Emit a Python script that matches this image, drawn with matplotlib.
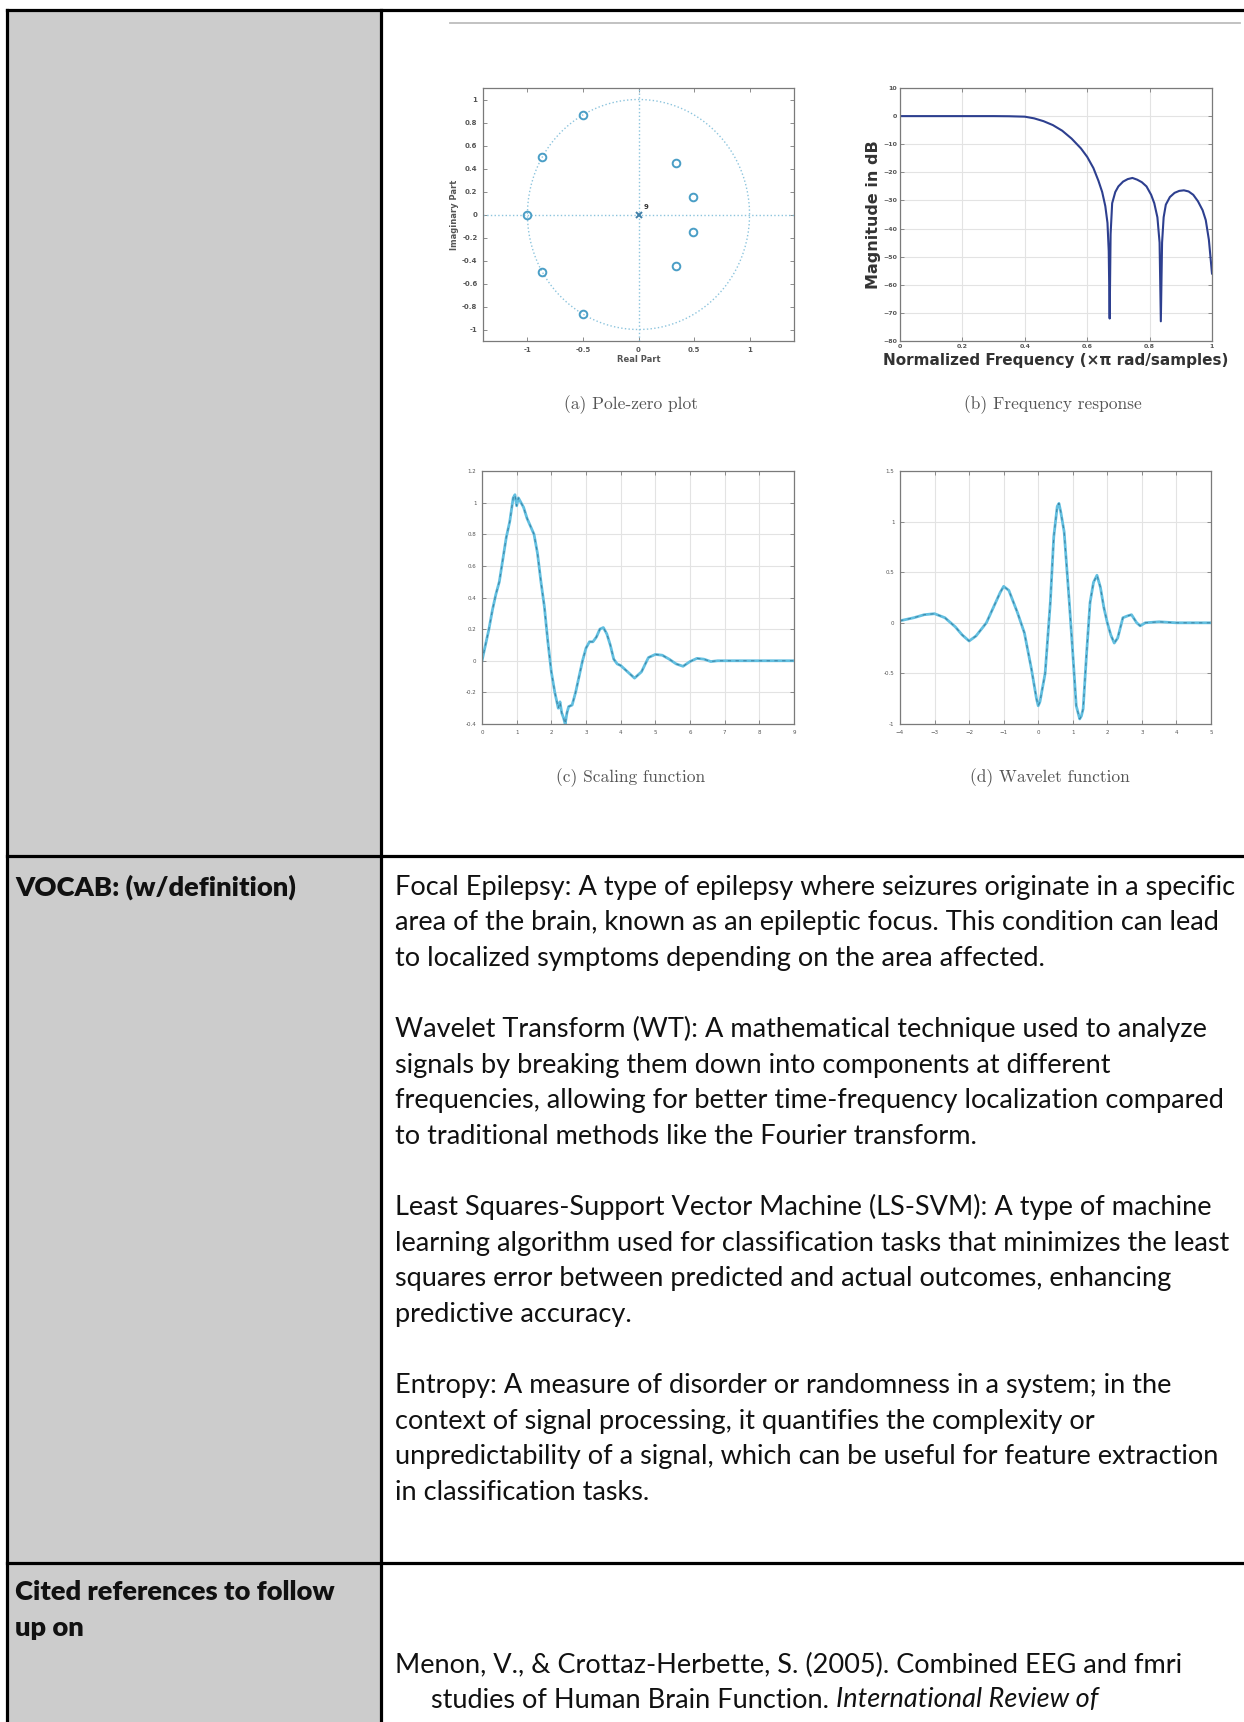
import numpy as np
import matplotlib
matplotlib.use('Agg')
import matplotlib.pyplot as plt
from matplotlib.ticker import FormatStrFormatter

# ---- data ----
# (a) pole-zero plot: zeros (real, imag) and the 9-fold pole at origin
zeros_re = [-0.5, -0.866, -1.0, -0.866, -0.5, 0.34, 0.49, 0.49, 0.34]
zeros_im = [0.866, 0.5, 0.0, -0.5, -0.866, 0.45, 0.15, -0.15, -0.45]
pole_re = [0.0]
pole_im = [0.0]
pole_mult = '9'

# (b) frequency response (normalized freq, dB)
fr_x = [0, 0.1, 0.2, 0.3, 0.35, 0.4, 0.43, 0.46, 0.49, 0.52, 0.55, 0.58, 0.6,
        0.62, 0.636, 0.648, 0.658, 0.665, 0.669, 0.672, 0.675, 0.68, 0.69,
        0.70, 0.715, 0.73, 0.745, 0.76, 0.775, 0.79, 0.805, 0.815, 0.825,
        0.832, 0.836, 0.84, 0.845, 0.852, 0.865, 0.88, 0.895, 0.91, 0.925,
        0.94, 0.955, 0.97, 0.98, 0.99, 1.0]
fr_db = [0, 0, 0, 0, -0.05, -0.2, -0.8, -1.8, -3.2, -5.2, -8, -11.5, -14.5,
         -18.5, -23, -27, -32, -38, -48, -72, -42, -31, -27, -25, -23.3,
         -22.4, -22, -22.6, -23.5, -25, -28, -31, -36, -45, -73, -45, -36,
         -31.5, -28.8, -27.3, -26.6, -26.4, -26.8, -28, -30.3, -33.5, -37,
         -44, -56]

# (c) scaling function
sc_x = [0, 0.1, 0.2, 0.3, 0.4, 0.5, 0.6, 0.7, 0.8, 0.9, 0.95, 1.0, 1.05, 1.1,
        1.2, 1.3, 1.4, 1.5, 1.6, 1.7, 1.8, 1.9, 2.0, 2.1, 2.2, 2.25, 2.3, 2.35,
        2.4, 2.45, 2.5, 2.6, 2.7, 2.8, 2.9, 3.0, 3.1, 3.2, 3.3, 3.4, 3.5, 3.6,
        3.7, 3.8, 3.9, 4.0, 4.2, 4.4, 4.6, 4.8, 5.0, 5.2, 5.4, 5.6, 5.8, 6.0,
        6.2, 6.4, 6.6, 6.8, 7.0, 8.0, 9.0]
sc_y = [0, 0.1, 0.2, 0.32, 0.42, 0.5, 0.64, 0.78, 0.88, 1.03, 1.05, 0.98,
        1.03, 1.01, 0.97, 0.9, 0.85, 0.8, 0.68, 0.5, 0.34, 0.12, -0.07, -0.2,
        -0.3, -0.26, -0.33, -0.36, -0.4, -0.33, -0.29, -0.28, -0.2, -0.1, 0.0,
        0.08, 0.12, 0.12, 0.15, 0.2, 0.21, 0.17, 0.1, 0.01, -0.02, -0.03,
        -0.07, -0.11, -0.07, 0.02, 0.04, 0.035, 0.01, -0.02, -0.035, -0.005,
        0.015, 0.01, -0.005, 0, 0, 0, 0]

# (d) wavelet function
wv_x = [-4, -3.6, -3.3, -3.0, -2.7, -2.4, -2.2, -2.0, -1.8, -1.5, -1.3, -1.1,
        -1.0, -0.85, -0.6, -0.4, -0.2, -0.05, 0.0, 0.05, 0.2, 0.35, 0.45, 0.55,
        0.6, 0.65, 0.75, 0.9, 1.0, 1.1, 1.2, 1.25, 1.3, 1.4, 1.5, 1.6, 1.7,
        1.8, 1.9, 2.0, 2.1, 2.2, 2.3, 2.45, 2.6, 2.7, 2.85, 2.95, 3.1, 3.5,
        4.0, 5.0]
wv_y = [0.02, 0.05, 0.08, 0.09, 0.05, -0.04, -0.12, -0.18, -0.13, 0.0, 0.15,
        0.3, 0.36, 0.32, 0.1, -0.1, -0.45, -0.75, -0.82, -0.78, -0.5, 0.2,
        0.85, 1.15, 1.18, 1.1, 0.9, 0.2, -0.3, -0.82, -0.95, -0.92, -0.85,
        -0.3, 0.2, 0.4, 0.47, 0.35, 0.15, 0.0, -0.12, -0.2, -0.15, 0.05, 0.07,
        0.08, 0.0, -0.03, 0.0, 0.01, 0.0, 0.0]

captions = ['(a) Pole-zero plot', '(b) Frequency response',
            '(c) Scaling function', '(d) Wavelet function']

vocab_lines = [
    'Focal Epilepsy: A type of epilepsy where seizures originate in a specific',
    'area of the brain, known as an epileptic focus. This condition can lead',
    'to localized symptoms depending on the area affected.',
    '',
    'Wavelet Transform (WT): A mathematical technique used to analyze',
    'signals by breaking them down into components at different',
    'frequencies, allowing for better time-frequency localization compared',
    'to traditional methods like the Fourier transform.',
    '',
    'Least Squares-Support Vector Machine (LS-SVM): A type of machine',
    'learning algorithm used for classification tasks that minimizes the least',
    'squares error between predicted and actual outcomes, enhancing',
    'predictive accuracy.',
    '',
    'Entropy: A measure of disorder or randomness in a system; in the',
    'context of signal processing, it quantifies the complexity or',
    'unpredictability of a signal, which can be useful for feature extraction',
    'in classification tasks.',
]
left_labels = ['VOCAB: (w/definition)', 'Cited references to follow', 'up on']
ref_line1 = 'Menon, V., & Crottaz-Herbette, S. (2005). Combined EEG and fmri'
ref_line2 = 'studies of Human Brain Function. '
ref_journal = 'International Review of'

W, H = 1244, 1722
body_font = ['Lato', 'DejaVu Sans']

fig = plt.figure(figsize=(W / 100, H / 100), dpi=100)

# background axes in pixel coordinates for the table
bg = fig.add_axes([0, 0, 1, 1])
bg.set_xlim(0, W)
bg.set_ylim(H, 0)
bg.axis('off')
renderer = fig.canvas.get_renderer()


def fit_size(text, target_px, **kw):
    # font size that makes `text` about target_px wide
    t = bg.text(0, 0, text, family=body_font, size=20, **kw)
    w = t.get_window_extent(renderer=renderer).width
    t.remove()
    return 20 * target_px / w


body_size = fit_size(vocab_lines[0], 843)
bold_size = fit_size(left_labels[1], 320, weight='heavy')

bg.add_patch(plt.Rectangle((7, 10), 374, H, color='#cccccc', lw=0, zorder=0))
lw_tab = 2.3
bg.plot([7, W], [10, 10], color='black', lw=lw_tab)
bg.plot([7, 7], [10, H], color='black', lw=lw_tab)
bg.plot([381, 381], [10, H], color='black', lw=lw_tab)
bg.plot([7, W], [856, 856], color='black', lw=lw_tab)
bg.plot([7, W], [1563, 1563], color='black', lw=lw_tab)
bg.plot([450, 1240], [23, 23], color='#bdbdbd', lw=1.3)

# left column labels
for lab, yy in zip(left_labels, [887, 1592, 1628]):
    bg.text(15, yy, lab, family=body_font, size=bold_size, weight='heavy',
            va='center', color='#111111')

# vocab text
y0 = 887
step = 35.6
for i, line in enumerate(vocab_lines):
    if line:
        bg.text(395, y0 + i * step, line, family=body_font, size=body_size,
                va='center', color='#111111')

bg.text(395, 1665, ref_line1, family=body_font, size=body_size, va='center',
        color='#111111')
t1 = bg.text(431, 1700, ref_line2, family=body_font, size=body_size,
             va='center', color='#111111')


def px_axes(x0, y0, x1, y1):
    return fig.add_axes([x0 / W, 1 - y1 / H, (x1 - x0) / W, (y1 - y0) / H])


def matlab_style(ax, grid=True, fs=4.5, bold=False):
    for s in ax.spines.values():
        s.set_color('#7a7a7a')
        s.set_linewidth(0.9)
    ax.tick_params(direction='in', top=True, right=True, length=3, width=0.6,
                   colors='#7a7a7a', labelsize=fs, labelcolor='#555555',
                   pad=4)
    if bold:
        for lab in ax.get_xticklabels() + ax.get_yticklabels():
            lab.set_fontweight('bold')
    if grid:
        ax.grid(True, color='#e3e3e3', lw=0.8)
        ax.set_axisbelow(True)


cap_font = ['cmr10', 'DejaVu Serif']
cap_color = '#555555'

# (a) pole-zero
ax = px_axes(483, 88, 794, 341)
th = np.linspace(0, 2 * np.pi, 200)
ax.plot(np.cos(th), np.sin(th), ls=':', color='#8cc4dd', lw=1.0)
ax.axhline(0, ls=':', color='#8cc4dd', lw=1.0)
ax.axvline(0, ls=':', color='#8cc4dd', lw=1.0)
ax.plot(zeros_re, zeros_im, 'o', mfc='none', mec='#4a9ec6', ms=5.5, mew=1.4)
ax.plot(pole_re, pole_im, 'x', color='#3f7fa8', ms=5, mew=1.4)
ax.text(0.05, 0.05, pole_mult, fontsize=5, color='#333333', weight='bold')
ax.set_xlim(-1.4, 1.4)
ax.set_ylim(-1.1, 1.1)
ax.set_xticks([-1, -0.5, 0, 0.5, 1])
ax.set_yticks([-1, -0.8, -0.6, -0.4, -0.2, 0, 0.2, 0.4, 0.6, 0.8, 1])
ax.xaxis.set_major_formatter(FormatStrFormatter('%g'))
ax.yaxis.set_major_formatter(FormatStrFormatter('%g'))
matlab_style(ax, grid=False, fs=5, bold=True)
ax.set_xlabel('Real Part', fontsize=6, color='#555555', weight='bold',
              labelpad=2)
ax.set_ylabel('Imaginary Part', fontsize=6, color='#555555', weight='bold',
              labelpad=2)
bg.text(631, 405, captions[0], family=cap_font, size=12.5, color=cap_color,
        ha='center', va='center')

# (b) frequency response
ax = px_axes(900, 88, 1212, 341)
ax.plot(fr_x, fr_db, color='#2d3f8f', lw=1.5)
ax.set_xlim(0, 1)
ax.set_ylim(-80, 10)
ax.set_xticks([0, 0.2, 0.4, 0.6, 0.8, 1])
ax.set_yticks(np.arange(-80, 11, 10))
ax.xaxis.set_major_formatter(FormatStrFormatter('%g'))
matlab_style(ax, grid=True, bold=True)
ax.tick_params(pad=2)
ax.set_xlabel('Normalized Frequency (\u00d7\u03c0 rad/samples)', fontsize=11,
              weight='bold', color='#333333', labelpad=3)
ax.set_ylabel('Magnitude in dB', fontsize=11.5, weight='bold',
              color='#333333', labelpad=2)
bg.text(1053, 405, captions[1], family=cap_font, size=12.5, color=cap_color,
        ha='center', va='center')

# (c) scaling function
ax = px_axes(482, 471, 794, 724)
ax.plot(sc_x, sc_y, color='#62bfe0', lw=2.0)
ax.plot(sc_x, sc_y, color='#2f6f8f', lw=0.8, ls=(0, (3, 4)), alpha=0.7)
ax.set_xlim(0, 9)
ax.set_ylim(-0.4, 1.2)
ax.set_xticks(range(0, 10))
ax.set_yticks([-0.4, -0.2, 0, 0.2, 0.4, 0.6, 0.8, 1, 1.2])
ax.yaxis.set_major_formatter(FormatStrFormatter('%g'))
matlab_style(ax, grid=True, fs=4)
bg.text(631, 778, captions[2], family=cap_font, size=12.5, color=cap_color,
        ha='center', va='center')

# (d) wavelet function
ax = px_axes(900, 471, 1211, 724)
ax.plot(wv_x, wv_y, color='#62bfe0', lw=2.0)
ax.plot(wv_x, wv_y, color='#2f6f8f', lw=0.8, ls=(0, (3, 4)), alpha=0.7)
ax.set_xlim(-4, 5)
ax.set_ylim(-1, 1.5)
ax.set_xticks(range(-4, 6))
ax.set_yticks([-1, -0.5, 0, 0.5, 1, 1.5])
ax.yaxis.set_major_formatter(FormatStrFormatter('%g'))
matlab_style(ax, grid=True, fs=4)
bg.text(1050, 778, captions[3], family=cap_font, size=12.5, color=cap_color,
        ha='center', va='center')

# italic journal name after the plain part
fig.canvas.draw()
bb = t1.get_window_extent(renderer=fig.canvas.get_renderer())
x_end = bg.transData.inverted().transform((bb.x1, bb.y0))[0]
bg.text(x_end, 1700, ref_journal, family=body_font, size=body_size,
        style='italic', va='center', color='#111111')

fig.savefig('out.png', dpi=100)
